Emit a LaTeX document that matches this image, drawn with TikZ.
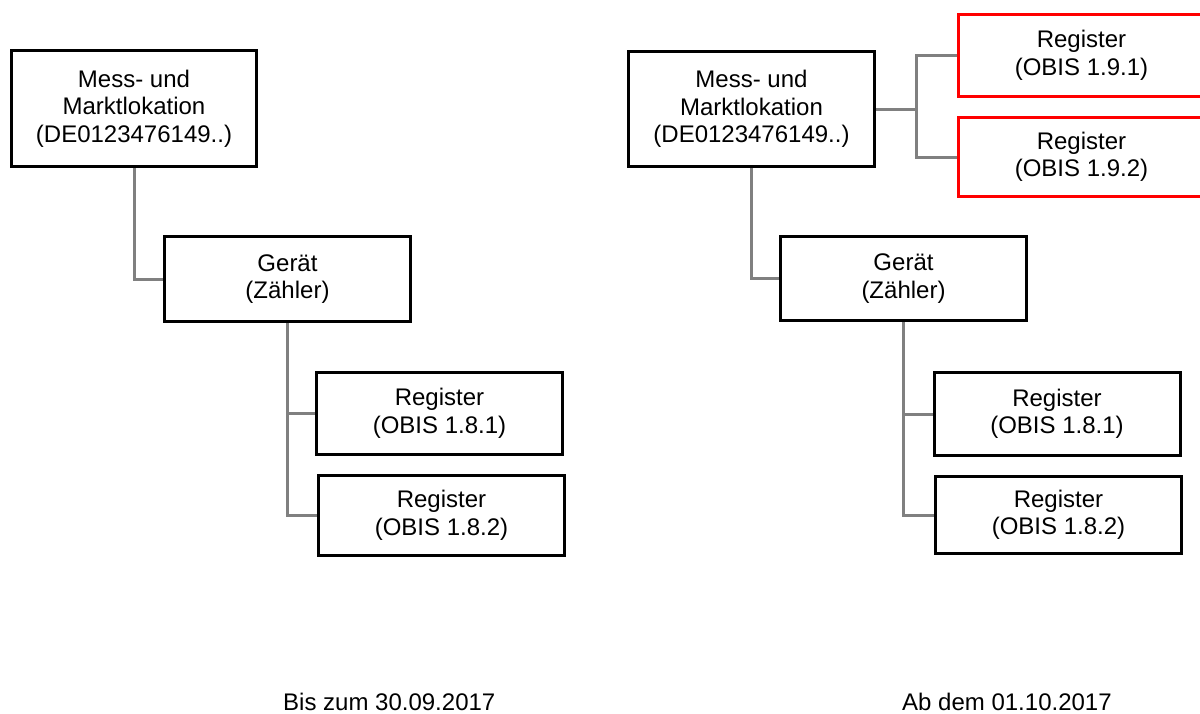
\documentclass[tikz,border=0pt]{standalone}
\usepackage{fontspec}
\setmainfont{Liberation Sans}
\begin{document}
\begin{tikzpicture}[x=1pt,y=-1pt,
  box/.style={draw=black,line width=3pt,fill=white,inner sep=0pt,align=center,
    font=\fontsize{24}{27.5}\selectfont,minimum width=246pt},
  redbox/.style={box,draw={rgb,255:red,255;green,0;blue,0}},
  conn/.style={draw={rgb,255:red,128;green,128;blue,128},line width=3pt},
  lab/.style={inner sep=0pt,font=\fontsize{24}{27.5}\selectfont}]
\useasboundingbox[fill=white] (0,0) rectangle (1200,713);
% left
\node[box,minimum width=245pt,minimum height=116pt] (A) at (134,108.5) {Mess- und\\Marktlokation\\(DE0123476149..)};
\node[box,minimum height=85pt] (B) at (287.5,279) {Gerät\\(Zähler)};
\node[box,minimum height=82pt] (R1) at (439.5,413.5) {Register\\(OBIS 1.8.1)};
\node[box,minimum height=80pt] (R2) at (441.5,515.5) {Register\\(OBIS 1.8.2)};
\draw[conn] (A.south) |- (B.west);
\draw[conn] (B.south) |- (R1.west);
\draw[conn] (B.south) |- (R2.west);
% right
\node[box,minimum height=115pt] (A2) at (751.5,109) {Mess- und\\Marktlokation\\(DE0123476149..)};
\node[redbox,minimum height=82pt] (X1) at (1081.5,55.5) {Register\\(OBIS 1.9.1)};
\node[redbox,minimum height=79pt] (X2) at (1081.5,157) {Register\\(OBIS 1.9.2)};
\node[box,minimum height=84pt] (B2) at (903.5,278.5) {Gerät\\(Zähler)};
\node[box,minimum height=83pt] (S1) at (1057,414) {Register\\(OBIS 1.8.1)};
\node[box,minimum height=77pt] (S2) at (1058.5,515) {Register\\(OBIS 1.8.2)};
\coordinate (j) at ([xshift=40pt]A2.east);
\draw[conn] (A2.east) -- (j);
\draw[conn] (X1.west) -| (j) |- (X2.west);
\draw[conn] (A2.south) |- (B2.west);
\draw[conn] (B2.south) |- (S1.west);
\draw[conn] (B2.south) |- (S2.west);
% captions
\node[lab,anchor=base west] (L1) at (283,710) {Bis zum 30.09.2017};
\node[lab,anchor=base west] (L2) at (902,710) {Ab dem 01.10.2017};
\end{tikzpicture}
\end{document}
